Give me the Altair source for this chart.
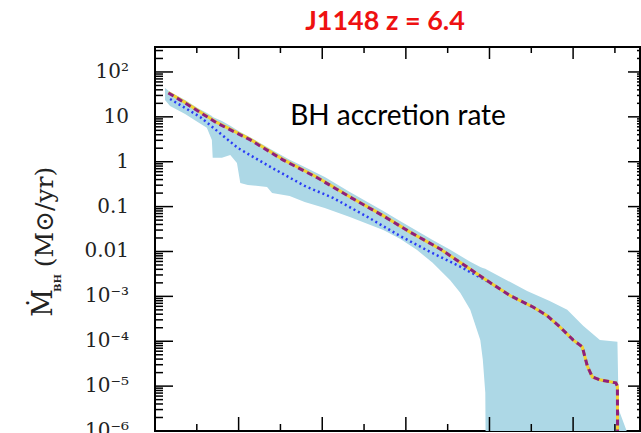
import altair as alt
import pandas as pd

# ---- data ----
band_x = [0.12, 0.18, 0.36, 0.51, 0.62, 0.68, 0.69, 0.80, 0.90, 0.98, 1.02, 1.11, 1.34, 1.40,
          1.61, 1.79, 2.03, 2.33, 2.73, 2.93, 3.13, 3.32, 3.53, 3.65, 3.77, 3.89, 3.92, 3.95,
          3.96, 4.45, 4.72, 4.93, 5.12, 5.32, 5.53, 5.545, 5.65]
band_upper = [44, 35.9, 23.8, 15.8, 12.2, 10.5, 9.95, 8.1, 6.3, 5.1, 4.6, 3.76, 2.14, 1.83,
              1.10, 0.766, 0.458, 0.212, 0.080, 0.048, 0.0288, 0.0181, 0.0109, 8.0e-3, 5.9e-3,
              4.5e-3, 4.3e-3, 4.1e-3, 4.0e-3, 1.32e-3, 7.9e-4, 5.0e-4, 2.2e-4, 1.07e-4, 9.7e-5,
              3.0e-6, 9e-7]
band_lower = [23.8, 17.5, 11.6, 7.7, 5.7, 3.06, 1.22, 1.22, 1.42, 0.94, 0.337, 0.304, 0.275, 0.202,
              0.173, 0.127, 0.0935, 0.059, 0.0303, 0.0191, 0.0109, 5.6e-3, 2.3e-3, 1.2e-3, 5.0e-4,
              1.07e-4, 3.9e-5, 7.1e-6, 1e-8, 1e-8, 1e-8, 1e-8, 1e-8, 1e-8, 1e-8, 1e-8, 1e-8]

purple_x = [0.16, 0.36, 0.74, 1.14, 1.53, 1.94, 2.33, 2.73, 3.05, 3.41, 3.71, 4.01, 4.25, 4.52,
            4.69, 4.84, 5.00, 5.11, 5.17, 5.23, 5.32, 5.51, 5.53, 5.535]
purple_y = [34, 20.4, 7.3, 3.06, 1.10, 0.44, 0.164, 0.062, 0.027, 0.0114, 4.8e-3, 2.0e-3, 1.03e-3,
            5.8e-4, 3.7e-4, 2.1e-4, 1.07e-4, 7.5e-5, 2.8e-5, 1.6e-5, 1.38e-5, 1.18e-5, 1.0e-5, 1e-8]

yellow_x = [0.16, 0.36, 0.74, 1.14, 1.53, 1.94, 2.33, 2.73, 3.05, 3.41, 3.71, 4.01, 4.25, 4.52,
            4.69, 4.84, 5.00, 5.11, 5.17, 5.23, 5.32, 5.51, 5.53, 5.535]
yellow_y = [35, 21, 7.5, 3.15, 1.13, 0.45, 0.166, 0.063, 0.027, 0.0114, 4.8e-3, 2.0e-3, 1.03e-3,
            5.8e-4, 3.7e-4, 2.1e-4, 1.07e-4, 7.5e-5, 2.8e-5, 1.6e-5, 1.38e-5, 1.18e-5, 1.0e-5, 1e-8]

blue_x = [0.18, 0.54, 0.99, 1.40, 1.79, 2.13, 2.54, 2.93, 3.29, 3.65, 4.01, 4.25, 4.52, 4.69,
          4.84, 5.00, 5.11, 5.17, 5.23, 5.32, 5.51, 5.53, 5.535]
blue_y = [25, 9.95, 2.03, 0.73, 0.289, 0.156, 0.059, 0.0222, 9.8e-3, 4.6e-3, 2.0e-3, 1.03e-3,
          5.8e-4, 3.7e-4, 2.1e-4, 1.07e-4, 7.5e-5, 2.8e-5, 1.6e-5, 1.38e-5, 1.18e-5, 1.0e-5, 1e-8]

y_tick_values = [100, 10, 1, 0.1, 0.01, 1e-3, 1e-4, 1e-5, 1e-6]
y_tick_labels = ["10²", "10", "1", "0.1", "0.01", "10⁻³", "10⁻⁴", "10⁻⁵", "10⁻⁶"]
y_minor_values = [m * 10.0 ** k for k in range(-6, 3) for m in range(2, 10) if m * 10.0 ** k <= 360]
x_major = [1, 2, 3, 4, 5]
x_minor = [0.5, 1.5, 2.5, 3.5, 4.5, 5.5]

W, H = 485, 384
xs = alt.Scale(domain=[0, 5.8], nice=False, zero=False)
ys = alt.Scale(type="log", domain=[1e-6, 360], nice=False)

band_df = pd.DataFrame({"x": band_x, "upper": band_upper, "lower": band_lower})
purple_df = pd.DataFrame({"x": purple_x, "y": purple_y})
yellow_df = pd.DataFrame({"x": yellow_x, "y": yellow_y})
blue_df = pd.DataFrame({"x": blue_x, "y": blue_y})

X = lambda f: alt.X(f, scale=xs, axis=None)
Y = lambda f: alt.Y(f, scale=ys, axis=None)

band = alt.Chart(band_df).mark_area(color="#ADD8E6", clip=True).encode(
    x=X("x:Q"), y=Y("upper:Q"), y2="lower:Q")

blue = alt.Chart(blue_df).mark_line(color="#2A3CF5", strokeWidth=2.5, strokeDash=[2, 3], clip=True).encode(
    x=X("x:Q"), y=Y("y:Q"))
yellow = alt.Chart(yellow_df).mark_line(color="#F2D230", strokeWidth=3, clip=True).encode(
    x=X("x:Q"), y=Y("y:Q"))
purple = alt.Chart(purple_df).mark_line(color="#8E1F7C", strokeWidth=3, strokeDash=[6, 4], clip=True).encode(
    x=X("x:Q"), y=Y("y:Q"))

ymaj_df = pd.DataFrame({"v": y_tick_values, "lab": y_tick_labels})
ymin_df = pd.DataFrame({"v": y_minor_values})
xmaj_df = pd.DataFrame({"v": x_major})
xmin_df = pd.DataFrame({"v": x_minor})

tick = dict(color="black", strokeWidth=1.5)
left_major = alt.Chart(ymaj_df).mark_rule(**tick).encode(y=Y("v:Q"), x=alt.value(0), x2=alt.value(18))
left_minor = alt.Chart(ymin_df).mark_rule(**tick).encode(y=Y("v:Q"), x=alt.value(0), x2=alt.value(8))
right_major = alt.Chart(ymaj_df).mark_rule(**tick).encode(y=Y("v:Q"), x=alt.value(W), x2=alt.value(W - 12))
right_minor = alt.Chart(ymin_df).mark_rule(**tick).encode(y=Y("v:Q"), x=alt.value(W), x2=alt.value(W - 3))
top_major = alt.Chart(xmaj_df).mark_rule(**tick).encode(x=X("v:Q"), y=alt.value(0), y2=alt.value(12))
top_minor = alt.Chart(xmin_df).mark_rule(**tick).encode(x=X("v:Q"), y=alt.value(0), y2=alt.value(6))
bot_major = alt.Chart(xmaj_df).mark_rule(**tick).encode(x=X("v:Q"), y=alt.value(H), y2=alt.value(H - 14))
bot_minor = alt.Chart(xmin_df).mark_rule(**tick).encode(x=X("v:Q"), y=alt.value(H), y2=alt.value(H - 7))

ylabels = alt.Chart(ymaj_df).mark_text(font="DejaVu Serif", fontSize=20, align="right",
                                       baseline="middle", color="#222222").encode(
    y=Y("v:Q"), x=alt.value(-26), text="lab:N")

def label(txt, x, y, **kw):
    return alt.Chart(pd.DataFrame({"t": [txt]})).mark_text(**kw).encode(
        text="t:N", x=alt.value(x), y=alt.value(y))

title = label("J1148 z = 6.4", 230, -17, font="Lato", fontWeight="bold", fontSize=27,
              color="#EE1111", align="center", baseline="alphabetic")
note = label("BH accretion rate", 243, 78, font="Lato", fontSize=28, color="black",
             align="center", baseline="alphabetic")
yt1 = label("(M⊙/yr)", -102, 170, font="DejaVu Serif", fontSize=25, angle=270,
            color="#222222", align="center", baseline="alphabetic")
yt2 = label("Ṁ", -103, 256, font="DejaVu Serif", fontSize=27, angle=270,
            color="#222222", align="center", baseline="alphabetic")
yt3 = label("BH", -94, 236, font="DejaVu Serif", fontSize=10, fontWeight="bold", angle=270,
            color="#222222", align="center", baseline="alphabetic")

chart = alt.layer(
    band, blue, yellow, purple,
    left_major, left_minor, right_major, right_minor,
    top_major, top_minor, bot_major, bot_minor,
    ylabels, title, note, yt1, yt2, yt3
).properties(
    width=W, height=H,
    padding={"left": 155, "top": 47, "right": 1, "bottom": 2},
    autosize="none",
).configure_view(stroke="black", strokeWidth=2)

chart.save("out.html", embed_options={"renderer": "svg", "actions": False})
